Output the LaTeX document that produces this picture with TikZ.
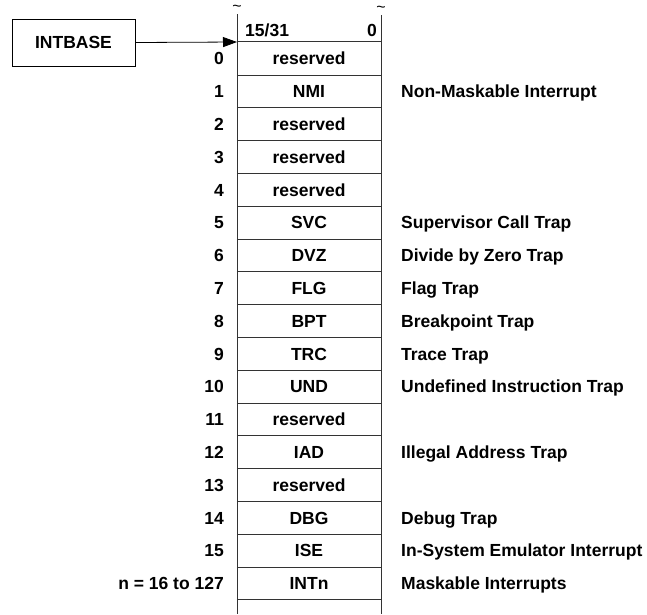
\documentclass[tikz,border=0pt]{standalone}
\usepackage{fontspec}
\setmainfont{Liberation Sans}
\usetikzlibrary{arrows.meta}

\begin{document}
\begin{tikzpicture}[x=1pt,y=-1pt,font=\fontsize{17.5}{20}\selectfont\bfseries,
    tx/.style={inner sep=0pt,text height=12.8pt,text depth=0pt},
    cell/.style={tx,minimum width=144pt,minimum height=32.8pt},
    rule/.style={line width=0.8pt,black!80}]
  \useasboundingbox (0,0) rectangle (647,614);
  % base register and table frame
  \node[draw,line width=0.8pt,minimum width=123pt,minimum height=47pt,inner sep=0pt] (intbase) at (73.5,42.5) {INTBASE};
  \node[inner sep=0pt,font=\fontsize{16}{16}\selectfont] (tildel) at (237,8) {\textasciitilde};
  \node[inner sep=0pt,font=\fontsize{16}{16}\selectfont] (tilder) at (381,9) {\textasciitilde};
  \coordinate (tabletop) at (237,42);
  \coordinate (leftend) at (237,614); \coordinate (rightend) at (381,614);
  \draw[rule] (tildel.south) ++(0,3) -- (leftend);
  \draw[rule] (tilder.south) ++(0,3) -- (rightend);
  \node[tx,anchor=west] (hibit) at (245,30.5) {15/31};
  \node[tx,anchor=east] (lobit) at (377,30.5) {0};
  \draw[line width=0.8pt,-{Triangle[length=14pt,width=10pt]}] (intbase.east) -- (tabletop);
  % vector table entries
  \foreach \i/\lbl/\entry/\desc in {0/0/reserved/,1/1/NMI/Non-Maskable Interrupt,
      2/2/reserved/,3/3/reserved/,4/4/reserved/,5/5/SVC/Supervisor Call Trap,
      6/6/DVZ/Divide by Zero Trap,7/7/FLG/Flag Trap,8/8/BPT/Breakpoint Trap,
      9/9/TRC/Trace Trap,10/10/UND/Undefined Instruction Trap,11/11/reserved/,
      12/12/IAD/Illegal Address Trap,13/13/reserved/,14/14/DBG/Debug Trap,
      15/15/ISE/In-System Emulator Interrupt,16/n = 16 to 127/INTn/Maskable Interrupts}{
    \node[cell] (e\i) at (309,{42+32.8*(\i+0.5)}) {\entry};
    \node[tx,anchor=east] (n\i) at (224,{42+32.8*(\i+0.5)}) {\lbl};
    \node[tx,anchor=west] (d\i) at (401,{42+32.8*(\i+0.5)}) {\desc};
    \draw[rule] (e\i.south west) -- (e\i.south east);
  }
  \draw[rule] (e0.north west) -- (e0.north east);
\end{tikzpicture}
\end{document}
